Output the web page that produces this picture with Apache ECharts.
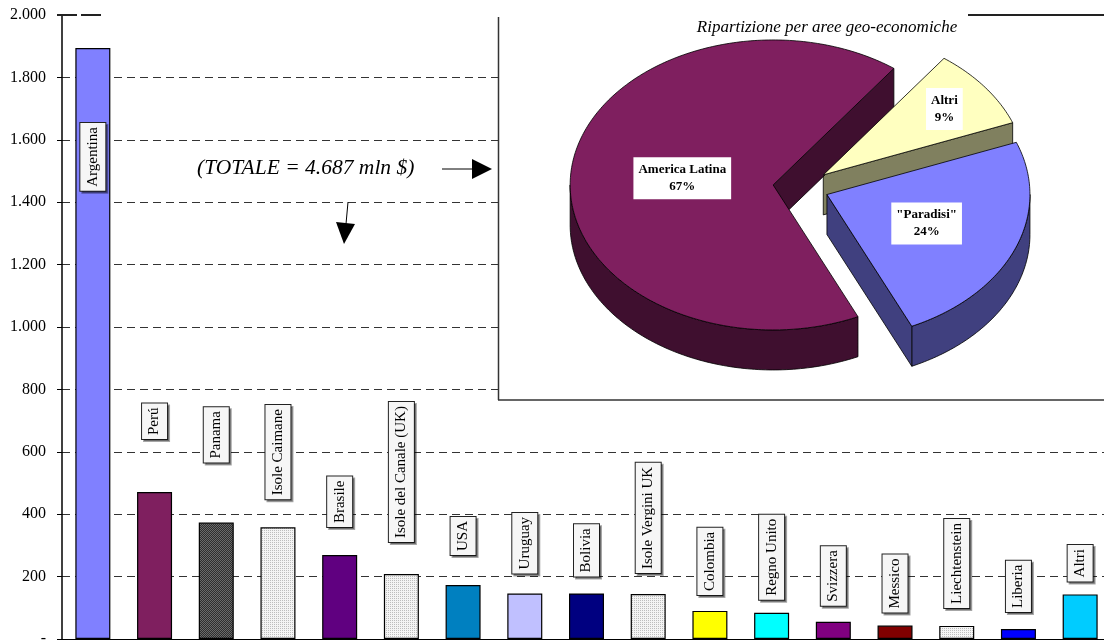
<!DOCTYPE html>
<html>
<head>
<meta charset="utf-8">
<script src="https://cdn.jsdelivr.net/npm/echarts@6/dist/echarts.min.js"></script>
<style>html,body{margin:0;padding:0;background:#fff}#main{width:1104px;height:642px}</style>
</head>
<body>
<div id="main"></div>
<script>
var categories = ['Argentina', 'Perú', 'Panama', 'Isole Caimane', 'Brasile', 'Isole del Canale (UK)', 'USA', 'Uruguay',
	'Bolivia', 'Isole Vergini UK', 'Colombia', 'Regno Unito', 'Svizzera', 'Messico', 'Liechtenstein', 'Liberia', 'Altri'];
var values = [1894, 471, 373, 358, 269, 208, 173, 146, 146, 144, 90, 84, 55, 43, 42, 32, 143];

var pieNames = ['Altri', '"Paradisi"', 'America Latina'];
var pieValues = [9, 24, 67];

// styles
var barColors = ['#8080ff', '#7f1f5f', 'dark', 'light', '#600080', 'light', '#0080c0', '#c0c0ff', '#000080',
	'light', '#ffff00', '#00ffff', '#800080', '#800000', 'light', '#0000ff', '#00ccff'];
var labelGap = [75, 53, 60, 28, 28, 32, 30, 20, 17, 21, 16, 13, 16, 13, 18, 17, 13];
var pieTop = ['#ffffc0', '#8080ff', '#7f1f5f'];
var pieSide = ['#80805f', '#40407f', '#3f0f2f'];
var pieLabelR = [0.75, 0.53, 0.45];
var pieCx = 801, pieCy = 187, pieRx = 203, pieRy = 145, pieDepth = 40, pieExplode = 28, pieStart = 53.5;

function makePattern(bg, fg) {
	var c = document.createElement('canvas');
	c.width = 2; c.height = 2;
	var ctx = c.getContext('2d');
	ctx.fillStyle = bg; ctx.fillRect(0, 0, 2, 2);
	ctx.fillStyle = fg; ctx.fillRect(0, 0, 1, 1);
	if (bg == '#2e2e2e') ctx.fillRect(1, 1, 1, 1);
	return { image: c, repeat: 'repeat' };
}
var patterns = { dark: makePattern('#2e2e2e', '#6a6a6a'), light: makePattern('#f4f4f4', '#bdbdbd') };

var labelBase = {
	show: true, formatter: '{b}', rotate: 90,
	fontFamily: 'Liberation Serif', fontSize: 15, color: '#000', lineHeight: 16,
	backgroundColor: '#f6f6f6', borderColor: '#222', borderWidth: 1, padding: [5, 4, 4, 4],
	shadowColor: 'rgba(0,0,0,0.35)', shadowOffsetX: 2, shadowOffsetY: 2, shadowBlur: 0
};

var barData = values.map(function (v, i) {
	var lab = Object.assign({}, labelBase, i == 0
		? { position: 'insideTop', align: 'right', verticalAlign: 'middle', distance: labelGap[i] }
		: { position: 'top', align: 'left', verticalAlign: 'middle', distance: labelGap[i] });
	return {
		value: v,
		itemStyle: { color: patterns[barColors[i]] || barColors[i], borderColor: '#000', borderWidth: 1.2 },
		label: lab
	};
});

// pie slices (clockwise from pieStart)
var pieTotal = pieValues.reduce(function (a, b) { return a + b; }, 0);
var slices = [], acc = pieStart;
pieValues.forEach(function (v) {
	var span = v / pieTotal * 360;
	slices.push({ s: acc, e: acc - span });
	acc -= span;
});

function renderPie(params, api) {
	var i = params.dataIndex, sl = slices[i], rad = Math.PI / 180;
	var mid = (sl.s + sl.e) / 2 * rad;
	var ax = pieCx + pieExplode * Math.cos(mid), ay = pieCy - pieExplode * Math.sin(mid) * pieRy / pieRx;
	function pt(deg, dy) { return [ax + pieRx * Math.cos(deg * rad), ay - pieRy * Math.sin(deg * rad) + (dy || 0)]; }
	function arc(a, b, dy) {
		var pts = [], n = Math.max(2, Math.ceil(Math.abs(b - a)));
		for (var k = 0; k <= n; k++) pts.push(pt(a + (b - a) * k / n, dy));
		return pts;
	}
	var edge = { stroke: '#000', lineWidth: 0.8 };
	var children = [];
	for (var k = -2; k <= 1; k++) {
		var lo = Math.max(sl.e, k * 360 - 180), hi = Math.min(sl.s, k * 360);
		if (hi > lo) {
			children.push({ type: 'polygon', z2: 1, shape: { points: arc(lo, hi, 0).concat(arc(hi, lo, pieDepth)) },
				style: Object.assign({ fill: pieSide[i] }, edge) });
		}
	}
	function radial(deg) {
		var p = pt(deg, 0);
		return { type: 'polygon', z2: 1, shape: { points: [[ax, ay], p, [p[0], p[1] + pieDepth], [ax, ay + pieDepth]] },
			style: Object.assign({ fill: pieSide[i] }, edge) };
	}
	if (Math.cos(sl.s * rad) < 0) children.push(radial(sl.s));
	if (Math.cos(sl.e * rad) > 0) children.push(radial(sl.e));
	children.push({ type: 'polygon', z2: 5, shape: { points: [[ax, ay]].concat(arc(sl.e, sl.s, 0)) },
		style: Object.assign({ fill: pieTop[i] }, edge) });
	var lr = pieLabelR[i];
	children.push({
		type: 'text', z2: 10,
		x: ax + lr * pieRx * Math.cos(mid), y: ay - lr * pieRy * Math.sin(mid),
		style: {
			text: pieNames[i] + '\n' + api.value(0) + '%',
			fontFamily: 'Liberation Serif', fontWeight: 'bold', fontSize: 13, lineHeight: 17, fill: '#000',
			backgroundColor: '#fff', padding: [4, 5], align: 'center', verticalAlign: 'middle'
		}
	});
	return { type: 'group', children: children };
}

var splitColors = [];
for (var s = 0; s < 10; s++) splitColors.push('#333');
splitColors.push('rgba(0,0,0,0)');

var myChart = echarts.init(document.getElementById('main'));
var option = {
	animation: false,
	grid: { left: 62, right: -7, top: 15, bottom: 3, containLabel: false, outerBoundsMode: 'none' },
	xAxis: {
		type: 'category',
		data: categories,
		axisLine: { lineStyle: { color: '#000', width: 1.2 } },
		axisTick: { inside: true, length: 6, lineStyle: { color: '#000' } },
		axisLabel: { show: false }
	},
	yAxis: {
		type: 'value', min: 0, max: 2000, interval: 200,
		axisLine: { show: true, lineStyle: { color: '#000', width: 1.5 } },
		axisTick: { show: true, length: 5, lineStyle: { color: '#000' } },
		axisLabel: {
			margin: 16, color: '#000', fontFamily: 'Liberation Serif', fontSize: 16,
			formatter: function (v) { return v == 0 ? '-' : String(v).replace(/\B(?=(\d{3})+(?!\d))/g, '.'); }
		},
		splitLine: { show: true, lineStyle: { color: splitColors, type: [8, 5], width: 1 } }
	},
	series: [
		{ type: 'bar', data: barData, barWidth: 35, z: 2 },
		{ type: 'custom', coordinateSystem: 'none', renderItem: renderPie, data: pieValues, silent: true, z: 4 }
	],
	graphic: [
		{ type: 'rect', z: 1, shape: { x: 499, y: 16, width: 606, height: 384 }, style: { fill: '#fff' } },
		{ type: 'line', z: 5, shape: { x1: 498.5, y1: 17, x2: 498.5, y2: 400 }, style: { stroke: '#333', lineWidth: 1.5 } },
		{ type: 'line', z: 5, shape: { x1: 498, y1: 400, x2: 1104, y2: 400 }, style: { stroke: '#333', lineWidth: 1.5 } },
		{ type: 'line', z: 5, shape: { x1: 968, y1: 15, x2: 1104, y2: 15 }, style: { stroke: '#222', lineWidth: 2 } },
		{ type: 'line', z: 5, shape: { x1: 57, y1: 15, x2: 104, y2: 15 }, style: { stroke: '#222', lineWidth: 2, lineDash: [20, 4] } },
		{ type: 'text', z: 5, x: 827, y: 28, style: { text: 'Ripartizione per aree geo-economiche', fontFamily: 'Liberation Serif',
			fontStyle: 'italic', fontSize: 17, fill: '#000', align: 'center', verticalAlign: 'middle' } },
		{ type: 'text', z: 5, x: 197, y: 168, style: { text: '(TOTALE = 4.687 mln $)', fontFamily: 'Liberation Serif',
			fontStyle: 'italic', fontSize: 21.5, fill: '#000', align: 'left', verticalAlign: 'middle' } },
		{ type: 'line', z: 5, shape: { x1: 442, y1: 169, x2: 474, y2: 169 }, style: { stroke: '#000', lineWidth: 1 } },
		{ type: 'polygon', z: 5, shape: { points: [[472, 159], [492, 169], [472, 179]] }, style: { fill: '#000' } },
		{ type: 'line', z: 5, shape: { x1: 348, y1: 202, x2: 346, y2: 224 }, style: { stroke: '#000', lineWidth: 1 } },
		{ type: 'polygon', z: 5, shape: { points: [[336, 222], [355, 224], [344, 244]] }, style: { fill: '#000' } }
	]
};
myChart.setOption(option);
window.onresize = () => myChart.resize();
</script>
</body>
</html>
